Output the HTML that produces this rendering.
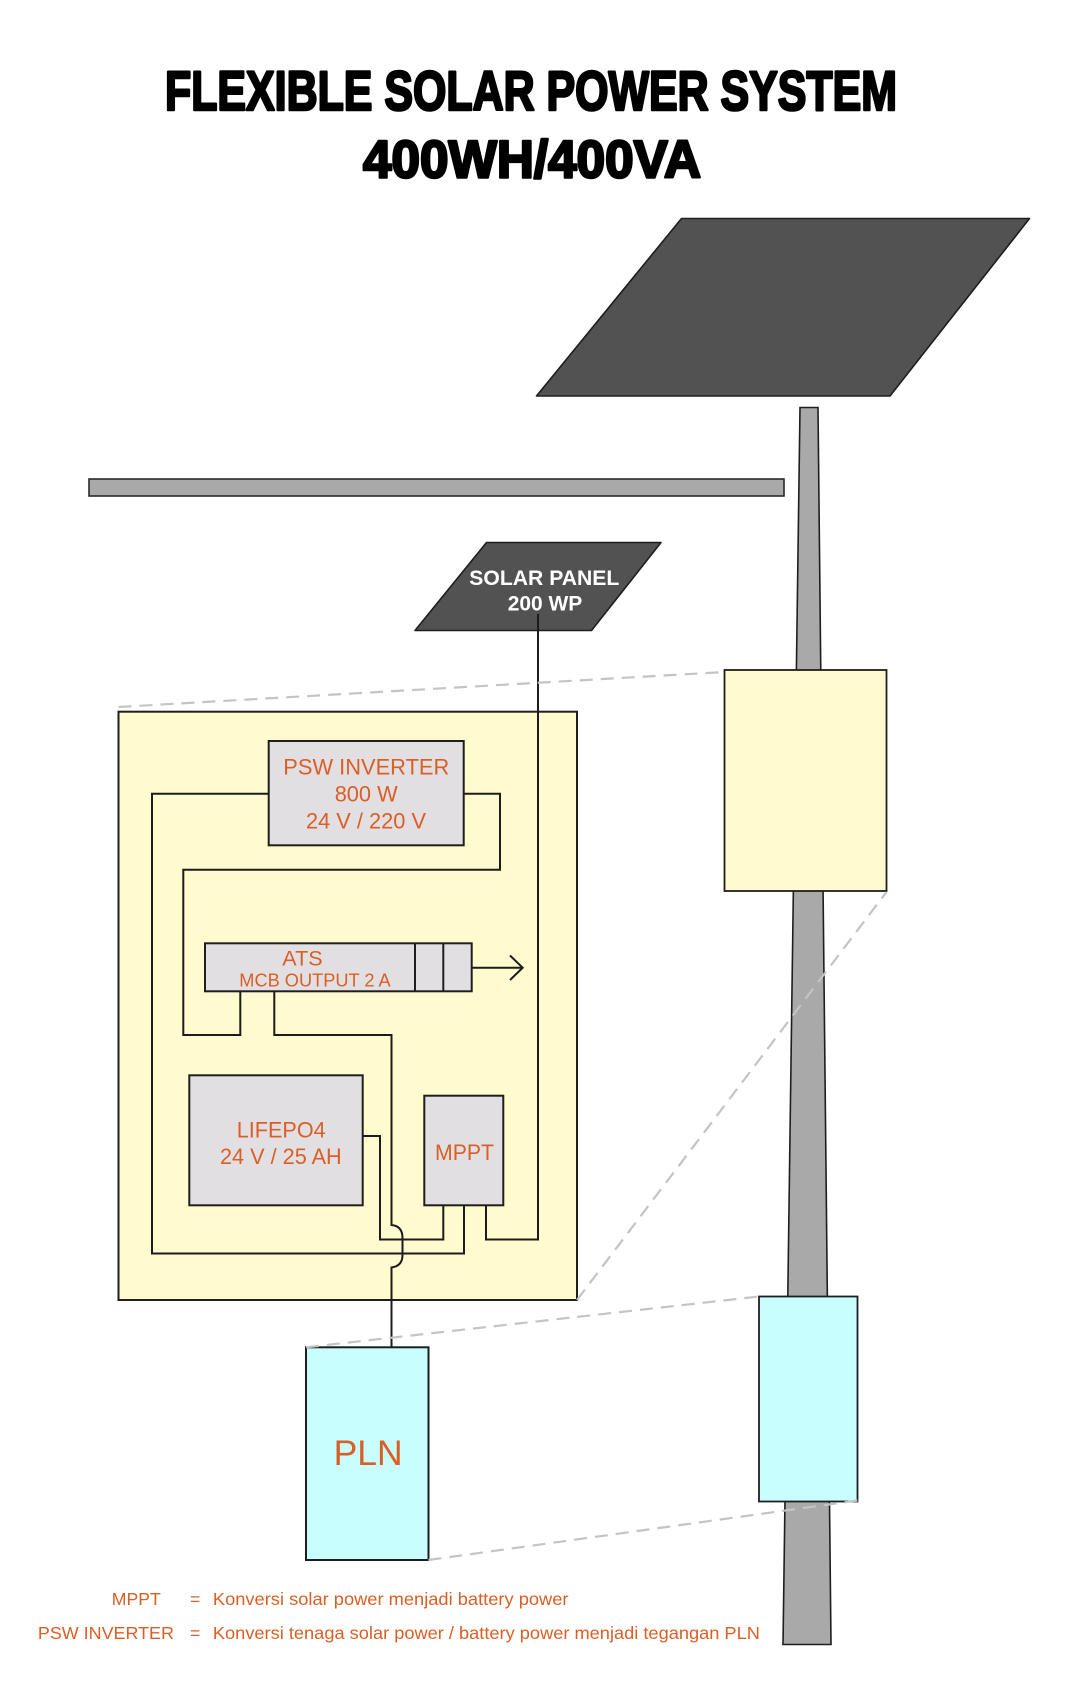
<!DOCTYPE html>
<html>
<head>
<meta charset="utf-8">
<style>
  html, body { margin: 0; padding: 0; background: #ffffff; }
  svg { display: block; }
  .t { font-family: "Liberation Sans", Arial, sans-serif; fill: #d95f26; }
  .w { fill: none; stroke: #1c1c1c; stroke-width: 2; stroke-linejoin: miter; }
  .d { fill: none; stroke: #c4c4c4; stroke-width: 2.2; stroke-dasharray: 13 8; }
</style>
</head>
<body>
<svg width="1074" height="1690" viewBox="0 0 1074 1690" xmlns="http://www.w3.org/2000/svg">
  <rect x="0" y="0" width="1074" height="1690" fill="#ffffff"/>

  <!-- Title -->
  <text x="165" y="110" font-family="Liberation Sans, Arial, sans-serif" font-weight="bold" font-size="56" fill="#000" stroke="#000" stroke-width="2.6" stroke-linejoin="round" textLength="732" lengthAdjust="spacingAndGlyphs">FLEXIBLE SOLAR POWER SYSTEM</text>
  <text x="363" y="177.5" font-family="Liberation Sans, Arial, sans-serif" font-weight="bold" font-size="53" fill="#000" stroke="#000" stroke-width="2.6" stroke-linejoin="round" textLength="338" lengthAdjust="spacingAndGlyphs">400WH/400VA</text>

  <!-- Big solar panel -->
  <polygon points="681.5,218.5 1029.5,218.5 890,396 536.5,396" fill="#525252" stroke="#1e1e1e" stroke-width="1.6" stroke-linejoin="round"/>

  <!-- Horizontal bar -->
  <rect x="89" y="479" width="695" height="17" fill="#a9a9a9" stroke="#2a2a2a" stroke-width="1.6"/>

  <!-- Pole -->
  <polygon points="800,407.5 818,407.5 831,1644.5 783,1644.5" fill="#a9a9a9" stroke="#1e1e1e" stroke-width="1.6"/>

  <!-- Pole boxes -->
  <rect x="724.5" y="670" width="162" height="221" fill="#fffbcf" stroke="#1e1e1e" stroke-width="1.8"/>
  <rect x="759" y="1296.5" width="98.5" height="205" fill="#c8fefe" stroke="#1e1e1e" stroke-width="1.8"/>

  <!-- Small solar panel -->
  <polygon points="486.5,542.5 661,542.5 591.5,630.5 415,630.5" fill="#525252" stroke="#1e1e1e" stroke-width="1.6" stroke-linejoin="round"/>
  <text x="469.3" y="585" font-family="Liberation Sans, Arial, sans-serif" font-weight="bold" font-size="21" fill="#ffffff" textLength="150" lengthAdjust="spacingAndGlyphs">SOLAR PANEL</text>
  <text x="507.7" y="610.7" font-family="Liberation Sans, Arial, sans-serif" font-weight="bold" font-size="21" fill="#ffffff" textLength="74.6" lengthAdjust="spacingAndGlyphs">200 WP</text>

  <!-- Inner yellow enclosure -->
  <rect x="118.5" y="711.7" width="458.5" height="588.3" fill="#fffbcf" stroke="#1e1e1e" stroke-width="2"/>

  <!-- PLN box -->
  <rect x="306" y="1347.3" width="122.5" height="212.7" fill="#c8fefe" stroke="#1e1e1e" stroke-width="2"/>
  <text class="t" x="333.6" y="1465" font-size="35" textLength="69" lengthAdjust="spacingAndGlyphs">PLN</text>

  <!-- Wires -->
  <path class="w" d="M268.7 793.7 H152 V1253.5 H464 V1205"/>
  <path class="w" d="M463.7 793.7 H500 V869.7 H183.3 V1035 H240.3 V991.3"/>
  <path class="w" d="M274.3 991.3 V1035 H391.5 V1225 Q402.5 1226 402.5 1238 V1255 Q402.5 1266 391.5 1267.5 V1347.3"/>
  <path class="w" d="M362.7 1136 H380 V1239.5 H443.3 V1205"/>
  <path class="w" d="M538 614 V1239.5 H486 V1205"/>

  <!-- PSW Inverter -->
  <rect x="268.7" y="741" width="195" height="104.3" fill="#e2dfe2" stroke="#1e1e1e" stroke-width="2"/>
  <text class="t" x="283.3" y="774.3" font-size="22" textLength="166" lengthAdjust="spacingAndGlyphs">PSW INVERTER</text>
  <text class="t" x="334.7" y="801.7" font-size="22" textLength="63" lengthAdjust="spacingAndGlyphs">800 W</text>
  <text class="t" x="306" y="828.7" font-size="22" textLength="120" lengthAdjust="spacingAndGlyphs">24 V / 220 V</text>

  <!-- ATS -->
  <rect x="205" y="943.3" width="266.7" height="48" fill="#e2dfe2" stroke="#1e1e1e" stroke-width="2"/>
  <line x1="415" y1="943.3" x2="415" y2="991.3" stroke="#1e1e1e" stroke-width="2"/>
  <line x1="443.3" y1="943.3" x2="443.3" y2="991.3" stroke="#1e1e1e" stroke-width="2"/>
  <text class="t" x="282.3" y="965.7" font-size="21" textLength="40.4" lengthAdjust="spacingAndGlyphs">ATS</text>
  <text class="t" x="239.3" y="986.7" font-size="18" textLength="151.4" lengthAdjust="spacingAndGlyphs">MCB OUTPUT 2 A</text>
  <path class="w" d="M471.7 967.7 H522.7"/>
  <path class="w" d="M510 955.5 L522.7 967.7 L510 980" stroke-linejoin="miter"/>

  <!-- LiFePO4 -->
  <rect x="189.3" y="1075.3" width="173.4" height="130" fill="#e2dfe2" stroke="#1e1e1e" stroke-width="2"/>
  <text class="t" x="236.7" y="1137.3" font-size="22" textLength="89" lengthAdjust="spacingAndGlyphs">LIFEPO4</text>
  <text class="t" x="220" y="1164" font-size="22" textLength="121.7" lengthAdjust="spacingAndGlyphs">24 V / 25 AH</text>

  <!-- MPPT -->
  <rect x="424.3" y="1095.7" width="79" height="109.6" fill="#e2dfe2" stroke="#1e1e1e" stroke-width="2"/>
  <text class="t" x="435" y="1160" font-size="22" textLength="59" lengthAdjust="spacingAndGlyphs">MPPT</text>

  <!-- Dashed projection lines -->
  <line class="d" x1="118.5" y1="707" x2="724.5" y2="672"/>
  <line class="d" x1="577" y1="1300" x2="886.5" y2="892"/>
  <line class="d" x1="306" y1="1347.3" x2="759" y2="1296.5"/>
  <line class="d" x1="428.5" y1="1560" x2="857.5" y2="1500.5"/>

  <!-- Legend -->
  <text class="t" x="111.8" y="1605" font-size="17.5" textLength="49" lengthAdjust="spacingAndGlyphs">MPPT</text>
  <text class="t" x="190" y="1605" font-size="17.5">=</text>
  <text class="t" x="212.9" y="1605" font-size="17.5" textLength="355.6" lengthAdjust="spacingAndGlyphs">Konversi solar power menjadi battery power</text>
  <text class="t" x="37.9" y="1639" font-size="17.5" textLength="136" lengthAdjust="spacingAndGlyphs">PSW INVERTER</text>
  <text class="t" x="190" y="1639" font-size="17.5">=</text>
  <text class="t" x="212.9" y="1639" font-size="17.5" textLength="547" lengthAdjust="spacingAndGlyphs">Konversi tenaga solar power / battery power menjadi tegangan PLN</text>
</svg>
</body>
</html>
